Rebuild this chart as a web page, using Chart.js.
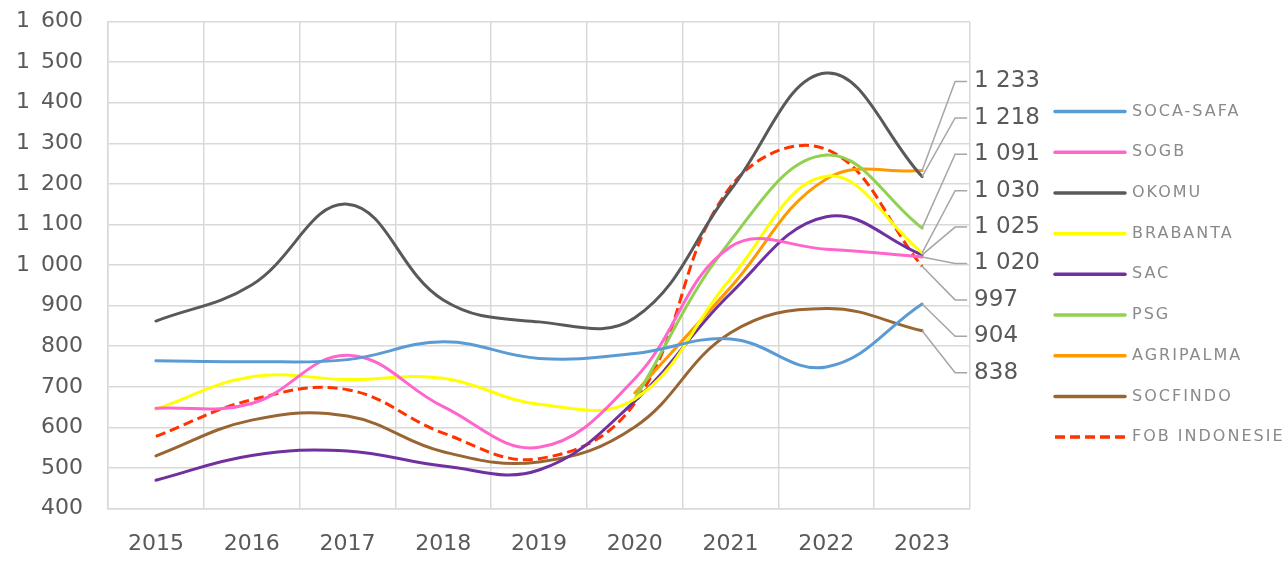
<!DOCTYPE html>
<html>
<head>
<meta charset="utf-8">
<script src="https://cdn.jsdelivr.net/npm/chart.js@4.4.1/dist/chart.umd.min.js"></script>
<style>
  html, body { margin: 0; padding: 0; background: #ffffff; }
  #wrap { width: 1288px; height: 561px; }
</style>
</head>
<body>
<div id="wrap"><canvas id="myChart"></canvas></div>
<script>
// years on the x axis
var years = ['2015', '2016', '2017', '2018', '2019', '2020', '2021', '2022', '2023'];

// values (PSG and AGRIPALMA start in 2020)
var socaSafa  = [764, 762, 767, 811, 770, 782, 818, 749, 904];
var sogb      = [647, 659, 778, 651, 551, 720, 1045, 1039, 1020];
var okomu     = [862, 951, 1150, 914, 860, 870, 1185, 1473, 1218];
var brabanta  = [645, 725, 718, 721, 657, 670, 967, 1219, 1030];
var sac       = [470, 531, 542, 505, 495, 665, 930, 1119, 1025];
var psg       = [null, null, null, null, null, 670, 1060, 1271, 1091];
var agripalma = [null, null, null, null, null, 685, 945, 1212, 1233];
var socfindo  = [530, 618, 628, 540, 515, 601, 833, 893, 838];
var fob       = [578, 668, 693, 586, 523, 660, 1193, 1285, 997];

// y axis ticks
var yMin = 400, yMax = 1600, yStep = 100;

var FONT = "'DejaVu Sans', sans-serif";
var GRID = '#d9d9d9';
var TEXT = '#595959';

// thousands separated by a space, like "1 233"
function fmt(v, sep) {
    return String(v).replace(/\B(?=(\d{3})+(?!\d))/g, sep || ' ');
}

function series(label, data, color, dashed) {
    return {
        label: label,
        data: data,
        borderColor: color,
        backgroundColor: color,
        borderWidth: 3,
        borderDash: dashed ? [10, 5] : [],
        borderCapStyle: dashed ? 'butt' : 'round',
        pointRadius: 0,
        pointHoverRadius: 0,
        tension: 0.4,
        fill: false
    };
}

// value labels at the 2023 end, with grey leader lines
var endLabels = {
    id: 'endLabels',
    afterDatasetsDraw: function (chart) {
        var ctx = chart.ctx;
        var items = [];
        chart.data.datasets.forEach(function (ds, i) {
            var last = ds.data.length - 1;
            var pt = chart.getDatasetMeta(i).data[last];
            items.push({ v: ds.data[last], x: pt.x, y: pt.y });
        });
        items.sort(function (a, b) { return b.v - a.v; });
        var top = chart.chartArea.top + 60;
        var gap = 36.4;
        ctx.save();
        ctx.font = '23px ' + FONT;
        ctx.textBaseline = 'middle';
        ctx.fillStyle = TEXT;
        items.forEach(function (it, k) {
            var ly = top + k * gap;
            ctx.strokeStyle = '#a6a6a6';
            ctx.lineWidth = 1.5;
            ctx.beginPath();
            ctx.moveTo(it.x, it.y);
            ctx.lineTo(it.x + 33, ly);
            ctx.lineTo(it.x + 45, ly);
            ctx.stroke();
            ctx.fillText(fmt(it.v), it.x + 52, ly);
        });
        ctx.restore();
    }
};

// legend on the right, one row per series
var sideLegend = {
    id: 'sideLegend',
    afterDraw: function (chart) {
        var ctx = chart.ctx;
        var x0 = chart.chartArea.right + 85;
        var y0 = chart.chartArea.top + 90;
        var pitch = 40.7;
        ctx.save();
        ctx.font = '16px ' + FONT;
        ctx.letterSpacing = '2px';
        ctx.textBaseline = 'middle';
        chart.data.datasets.forEach(function (ds, i) {
            var y = y0 + i * pitch;
            ctx.strokeStyle = ds.borderColor;
            ctx.lineWidth = 3.5;
            ctx.lineCap = 'round';
            ctx.setLineDash(ds.borderDash || []);
            if (ds.borderDash && ds.borderDash.length) ctx.lineCap = 'butt';
            ctx.beginPath();
            ctx.moveTo(x0, y);
            ctx.lineTo(x0 + 70, y);
            ctx.stroke();
            ctx.setLineDash([]);
            ctx.fillStyle = '#8a8a8a';
            ctx.fillText(ds.label, x0 + 77, y);
        });
        ctx.restore();
    }
};

document.addEventListener('DOMContentLoaded', function () {
    var ctx = document.getElementById('myChart').getContext('2d');

    var myChart = new Chart(ctx, {
        type: 'line',
        data: {
            labels: years,
            datasets: [
                series('SOCA-SAFA', socaSafa, '#5b9bd5'),
                series('SOGB', sogb, '#ff66cc'),
                series('OKOMU', okomu, '#595959'),
                series('BRABANTA', brabanta, '#ffff00'),
                series('SAC', sac, '#7030a0'),
                series('PSG', psg, '#92d050'),
                series('AGRIPALMA', agripalma, '#ff9900'),
                series('SOCFINDO', socfindo, '#996633'),
                series('FOB INDONESIE', fob, '#ff3300', true)
            ]
        },
        options: {
            responsive: true,
            maintainAspectRatio: false,
            animation: false,
            layout: { padding: { top: 21.5, left: 8, right: 318, bottom: -18 } },
            plugins: {
                tooltip: { enabled: false },
                legend: { display: false }
            },
            scales: {
                x: {
                    offset: true,
                    grid: { offset: true, color: GRID, lineWidth: 1.5, drawTicks: false },
                    border: { color: GRID, width: 1.5 },
                    ticks: {
                        color: TEXT,
                        padding: 22,
                        maxRotation: 0,
                        font: { family: FONT, size: 22 }
                    }
                },
                y: {
                    min: yMin,
                    max: yMax,
                    afterFit: function (s) {
                        s.width = 100;
                        s.paddingTop = 0;
                        s.paddingBottom = 0;
                    },
                    grid: { color: GRID, lineWidth: 1.5, drawTicks: false },
                    border: { color: GRID, width: 1.5 },
                    ticks: {
                        stepSize: yStep,
                        color: TEXT,
                        padding: 25,
                        font: { family: FONT, size: 22 },
                        callback: function (v) { return fmt(v, '\u2002'); }
                    }
                }
            }
        },
        plugins: [endLabels, sideLegend]
    });
});
</script>
</body>
</html>
